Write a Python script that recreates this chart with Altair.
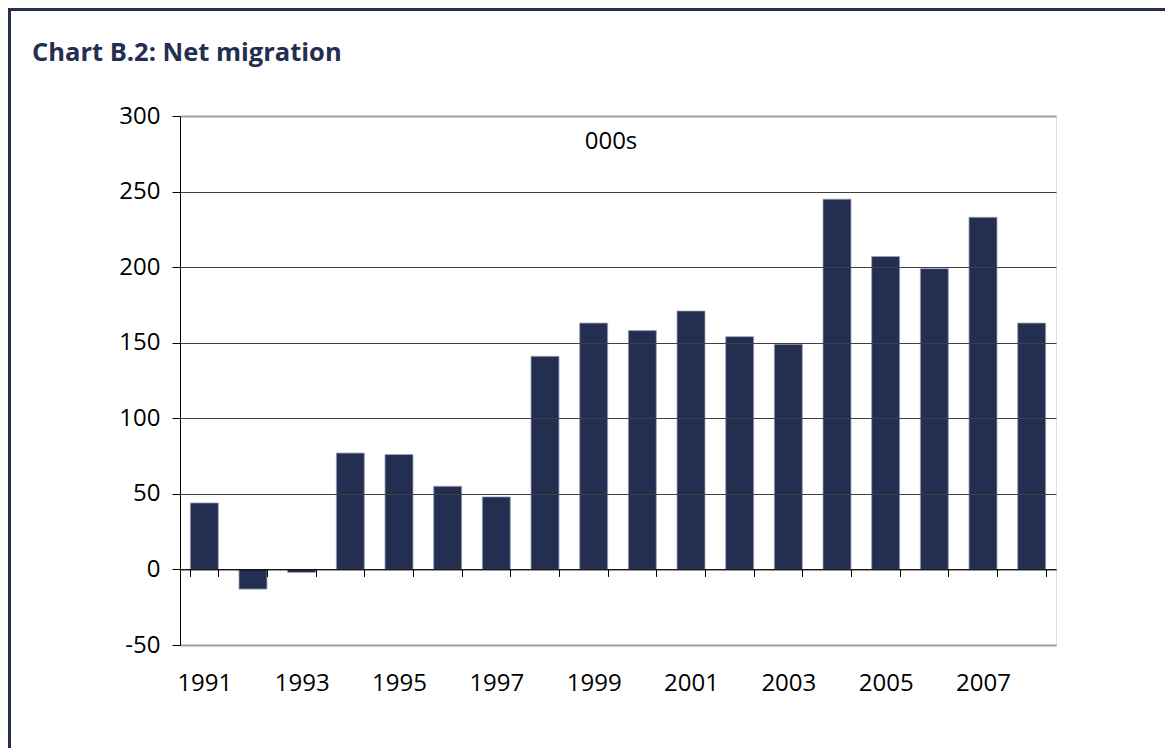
import altair as alt
import pandas as pd

years = ["1991", "1992", "1993", "1994", "1995", "1996", "1997", "1998", "1999",
         "2000", "2001", "2002", "2003", "2004", "2005", "2006", "2007", "2008"]
net_migration = [44, -13, -2, 77, 76, 55, 48, 141, 163, 158, 171, 154, 149, 245, 207, 199, 233, 163]
y_ticks = [-50, 0, 50, 100, 150, 200, 250, 300]

title_text = "Chart B.2: Net migration"
unit_text = "000s"

NAVY = "#232e50"
FONT = "Open Sans"

df = pd.DataFrame({"year": years, "value": net_migration})

W, H = 876, 529

x_scale = alt.Scale(paddingInner=0.425, paddingOuter=0.2125)
y_scale = alt.Scale(domain=[-50, 300], nice=False, zero=False)

x_axis = alt.Axis(
    title=None,
    orient="bottom",
    offset=-75.6,
    tickBand="extent",
    tickSize=7,
    tickColor="black",
    domainColor="black",
    domainWidth=1,
    labelAngle=0,
    labelPadding=95,
    labelFont=FONT,
    labelFontSize=24,
    labelColor="black",
    labelExpr="parseInt(datum.value) % 2 == 1 ? datum.value : ''",
    zindex=2,
    grid=False,
)

y_axis = alt.Axis(
    title=None,
    values=y_ticks,
    tickSize=8,
    tickColor="black",
    domainColor="black",
    domainWidth=1,
    labelFont=FONT,
    labelFontSize=24,
    labelColor="black",
    labelPadding=12,
    labelExpr="'' + datum.value",
    grid=True,
    gridColor={"condition": {"test": "datum.value == 300 || datum.value == -50", "value": "#a0a0a0"}, "value": "#404040"},
    gridWidth={"condition": {"test": "datum.value == 300 || datum.value == -50", "value": 2}, "value": 1},
    zindex=1,
)

bars = alt.Chart(df).mark_bar(color=NAVY, stroke="#9aa2b8", strokeWidth=0.8).encode(
    x=alt.X("year:N", sort=years, scale=x_scale, axis=x_axis),
    y=alt.Y("value:Q", scale=y_scale, axis=y_axis),
    y2=alt.datum(0),
)

title = alt.Chart(pd.DataFrame({"t": [title_text]})).mark_text(
    font=FONT, fontSize=25.5, fontWeight="bold", color=NAVY, align="left", baseline="alphabetic"
).encode(x=alt.value(-148), y=alt.value(-55), text="t:N")

unit = alt.Chart(pd.DataFrame({"t": [unit_text]})).mark_text(
    font=FONT, fontSize=24, color="black", align="center", baseline="middle"
).encode(x=alt.value(431), y=alt.value(26), text="t:N")

frame_left = alt.Chart(pd.DataFrame({"a": [0]})).mark_rule(color=NAVY, strokeWidth=3).encode(
    x=alt.value(-170.5), y=alt.value(-108), y2=alt.value(640)
)
frame_top = alt.Chart(pd.DataFrame({"a": [0]})).mark_rule(color=NAVY, strokeWidth=3).encode(
    x=alt.value(-172), x2=alt.value(1000), y=alt.value(-106.5)
)

chart = alt.layer(bars, title, unit, frame_left, frame_top).properties(
    width=W,
    height=H,
    padding={"left": 172, "top": 108, "right": 109, "bottom": 103},
    autosize=alt.AutoSizeParams(type="none"),
).configure_view(stroke="#a0a0a0", strokeWidth=2).configure(background="white")

chart.save("out.html", embed_options={"renderer": "svg", "actions": False})
